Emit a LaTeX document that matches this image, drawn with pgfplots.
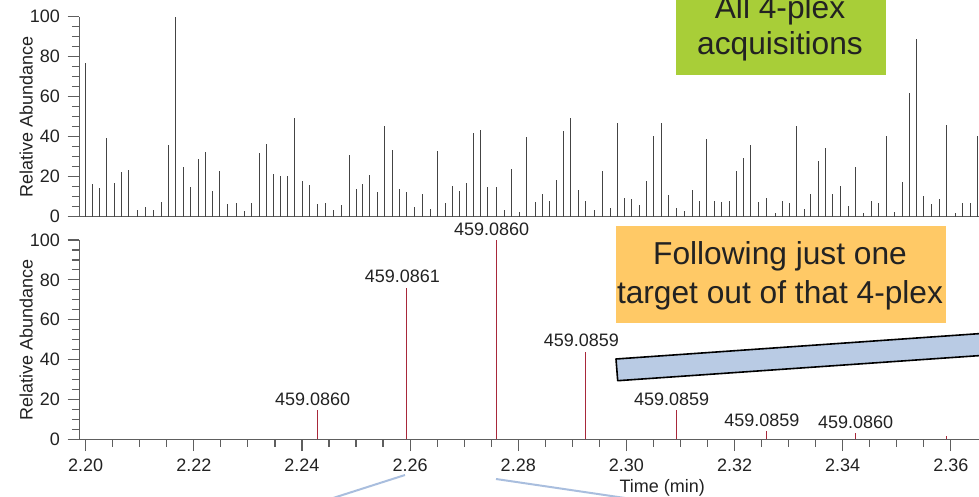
\documentclass[border=0pt]{standalone}
\usepackage{pgfplots}
\pgfplotsset{compat=1.18}
\usepackage{fontspec}
\setmainfont{Liberation Sans}

\definecolor{axisgray}{HTML}{5E5E5E}
\definecolor{txt}{HTML}{222222}
\definecolor{stick}{HTML}{444444}
\definecolor{peakred}{HTML}{A8283A}
\definecolor{boxgreen}{HTML}{A8CE38}
\definecolor{boxorange}{HTML}{FFC966}
\definecolor{barblue}{HTML}{B9CBE4}
\definecolor{leadblue}{HTML}{A9BEDE}

% All 4-plex acquisitions: (time / min, relative abundance)
\pgfplotstableread{
t v
2.1999 76.7
2.2013 16.3
2.2026 14.2
2.2039 39.3
2.2053 16.8
2.2066 22.2
2.2080 23.2
2.2095 3.3
2.2110 5.0
2.2126 3.3
2.2140 7.2
2.2154 35.8
2.2167 100
2.2181 24.8
2.2194 15.0
2.2208 28.8
2.2221 32.2
2.2234 12.7
2.2248 22.7
2.2263 6.3
2.2278 6.7
2.2293 3.0
2.2307 7.0
2.2321 31.7
2.2334 36.3
2.2347 21.2
2.2361 20.3
2.2374 20.2
2.2387 49.2
2.2401 18.0
2.2414 15.7
2.2428 6.2
2.2443 6.7
2.2459 3.3
2.2473 6.0
2.2487 31.0
2.2500 14.0
2.2512 16.3
2.2525 20.8
2.2539 12.5
2.2552 45.5
2.2567 33.3
2.2580 13.8
2.2594 12.5
2.2609 5.0
2.2623 11.2
2.2637 3.8
2.2651 32.8
2.2665 7.0
2.2678 15.3
2.2691 13.0
2.2704 16.8
2.2717 42.0
2.2731 43.5
2.2744 14.7
2.2759 14.7
2.2774 3.3
2.2788 24.0
2.2802 2.5
2.2816 40.0
2.2831 7.3
2.2844 11.5
2.2857 7.8
2.2871 18.5
2.2884 42.7
2.2897 49.2
2.2911 13.2
2.2925 7.7
2.2941 3.2
2.2955 22.8
2.2970 4.2
2.2983 46.7
2.2997 9.3
2.3010 8.7
2.3024 5.8
2.3037 18.0
2.3051 40.5
2.3064 46.7
2.3077 10.8
2.3092 4.2
2.3107 2.8
2.3122 13.2
2.3136 7.7
2.3149 38.7
2.3162 7.7
2.3176 7.3
2.3190 7.7
2.3204 22.8
2.3217 29.4
2.3230 35.7
2.3244 7.4
2.3259 9.5
2.3275 1.8
2.3288 7.7
2.3302 6.8
2.3315 45.3
2.3329 3.7
2.3341 11.5
2.3355 27.8
2.3369 34.3
2.3382 11.5
2.3396 15.3
2.3410 5.2
2.3424 24.8
2.3439 1.8
2.3453 7.7
2.3466 6.8
2.3481 40.3
2.3496 2.3
2.3510 17.3
2.3523 61.7
2.3536 89.0
2.3550 10.5
2.3564 6.2
2.3579 8.7
2.3592 46.0
2.3608 1.8
2.3622 6.7
2.3636 6.7
2.3650 40.3
}\allplex

\pgfplotsset{
  msaxis/.style={
    scale only axis,
    width=899.7bp,
    xmin=2.19882, xmax=2.36521,
    ymin=0, ymax=100,
    axis x line*=bottom, axis y line*=left,
    axis line style={axisgray, line width=1.2bp},
    tick style={axisgray, line width=1.2bp},
    tick align=outside,
    major tick length=11.7bp,
    minor tick length=7.5bp,
    ytick={0,20,40,60,80,100},
    minor y tick num=3,
    /pgf/number format/assume math mode=true,
    tick label style={font=\fontsize{18bp}{21bp}\selectfont, text=txt},
    yticklabel style={anchor=east, inner sep=0pt, xshift=-7.5bp},
    ylabel={Relative Abundance},
    every axis y label/.style={at={(rel axis cs:0,0.5)}, xshift=-53bp,
      rotate=90, anchor=center, font=\fontsize{18bp}{21bp}\selectfont, text=txt},
    clip=false,
  },
  peaklabel/.style={
    nodes near coords,
    point meta=explicit symbolic,
    every node near coord/.append style={anchor=south, inner sep=0pt,
      yshift=4bp, font=\fontsize{18bp}{21bp}\selectfont, text=txt},
  },
}

\begin{document}
\begin{tikzpicture}
\useasboundingbox (0,0) rectangle (979bp,497bp);
\begin{scope}
\clip (0,0) rectangle (979bp,497bp);

% upper trace: every acquisition of the 4-plex
\begin{axis}[msaxis, at={(79.3bp,280.3bp)}, anchor=south west, height=200bp,
  xtick=\empty]
  \addplot[ycomb, stick, line width=1bp] table[x=t, y=v] {\allplex};
\end{axis}

% lower trace: one target of the 4-plex
\begin{axis}[msaxis, at={(79.3bp,57.7bp)}, anchor=south west, height=199.3bp,
  xtick={2.20,2.22,2.24,2.26,2.28,2.30,2.32,2.34,2.36},
  minor x tick num=3,
  xticklabel style={/pgf/number format/.cd, fixed, fixed zerofill, precision=2,
    /tikz/.cd, anchor=north, inner sep=0pt, yshift=-7.3bp},
  xlabel={Time (min)},
  every axis x label/.style={at={(rel axis cs:0.648,0)}, anchor=center,
    yshift=-49bp, font=\fontsize{18bp}{21bp}\selectfont, text=txt},
  ]
  \addplot[ycomb, peakred, line width=1.1bp, peaklabel,
    every node near coord/.append style={xshift=-4.5bp}] coordinates {
    (2.2428,14.7) [459.0860]
    (2.2594,76.1) [459.0861]
    (2.2759,100)  [459.0860]
    (2.2925,44.0) [459.0859]
    (2.3092,14.7) [459.0859]
    (2.3259,4.2)  [459.0859]
  };
  \addplot[ycomb, peakred, line width=1.1bp, peaklabel] coordinates {
    (2.3424,3.0) [459.0860]
  };
  \addplot[ycomb, peakred, line width=1.1bp] coordinates {
    (2.3592,1.8)
  };
\end{axis}

% callouts
\fill[boxgreen] (676bp,422.3bp) rectangle (886bp,510bp);
\node[anchor=base, inner sep=0pt, text=txt, font=\fontsize{31.7bp}{37.5bp}\selectfont]
  at (780bp,478.7bp) {All 4-plex};
\node[anchor=base, inner sep=0pt, text=txt, font=\fontsize{31.7bp}{37.5bp}\selectfont]
  at (780bp,442bp) {acquisitions};

\fill[boxorange] (616bp,174.3bp) rectangle (945.7bp,271bp);
\node[anchor=base, inner sep=0pt, text=txt, font=\fontsize{31.7bp}{37.5bp}\selectfont]
  at (780bp,232bp) {Following just one};
\node[anchor=base, inner sep=0pt, text=txt, font=\fontsize{31.7bp}{37.5bp}\selectfont]
  at (780bp,193.7bp) {target out of that 4-plex};

\draw[fill=barblue, draw=black, line width=1.6bp, line join=round]
  (616bp,138bp) -- (1010bp,165.5bp) -- (1010bp,143.5bp) -- (617.7bp,116.3bp) -- cycle;

\draw[leadblue, line width=2bp] (405bp,22bp) -- (330bp,-2bp);
\draw[leadblue, line width=2bp] (496bp,18bp) -- (625bp,-1bp);
\end{scope}
\end{tikzpicture}
\end{document}
